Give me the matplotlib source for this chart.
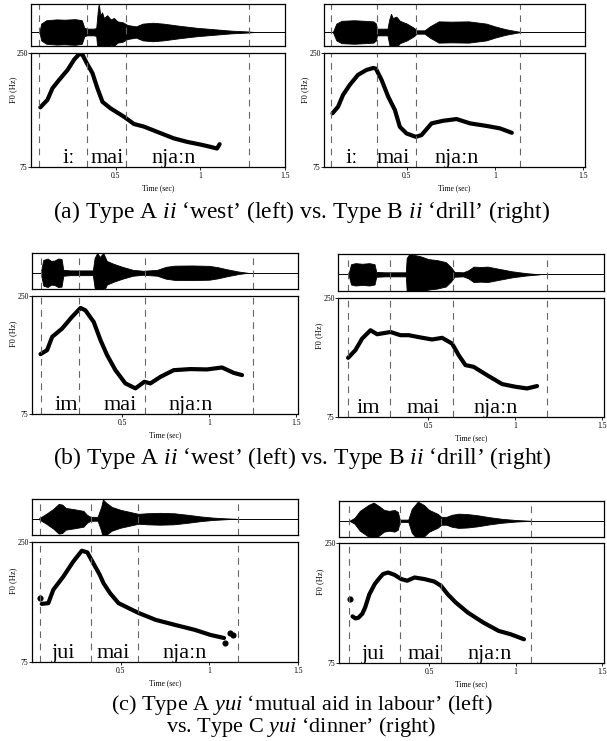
import matplotlib
matplotlib.use('Agg')
import matplotlib.pyplot as plt
from matplotlib.transforms import blended_transform_factory

plt.rcParams['font.family'] = ['Liberation Serif', 'DejaVu Serif']

W, H = 607, 741

# ---- (a) left: Type A ii 'west'
a_left_wave_t = [0.05, 0.06, 0.09, 0.15, 0.2, 0.26, 0.3, 0.315, 0.33, 0.37, 0.385, 0.395, 0.40, 0.41, 0.42, 0.43, 0.45, 0.47, 0.49, 0.51, 0.54, 0.57, 0.62, 0.66, 0.72, 0.78, 0.88, 0.98, 1.08, 1.18, 1.28, 1.32]
a_left_wave_amp = [0.0, 0.3, 0.42, 0.45, 0.44, 0.46, 0.42, 0.15, 0.12, 0.12, 0.14, 0.8, 1.0, 0.6, 0.7, 0.5, 0.6, 0.45, 0.5, 0.38, 0.35, 0.25, 0.2, 0.3, 0.33, 0.3, 0.22, 0.15, 0.1, 0.05, 0.02, 0.0]
a_left_f0_t = [0.055, 0.097, 0.127, 0.167, 0.216, 0.255, 0.285, 0.304, 0.329, 0.363, 0.392, 0.422, 0.47, 0.55, 0.608, 0.667, 0.745, 0.843, 0.922, 1.0, 1.059, 1.098, 1.114]
a_left_f0_hz = [166.6, 178, 196, 209, 224, 240, 248.5, 247.4, 234.6, 219, 196, 175, 165, 152, 141, 137, 129, 119, 113.6, 109.5, 106, 103.3, 110]
a_left_bounds = [0.05, 0.33, 0.56, 1.29]

# ---- (a) right: Type B ii 'drill'
a_right_wave_t = [0.08, 0.1, 0.13, 0.2, 0.26, 0.31, 0.325, 0.33, 0.39, 0.4, 0.41, 0.42, 0.44, 0.46, 0.5, 0.54, 0.555, 0.6, 0.63, 0.68, 0.75, 0.85, 0.95, 1.0, 1.06, 1.12, 1.15]
a_right_wave_amp = [0.0, 0.3, 0.4, 0.42, 0.4, 0.38, 0.3, 0.12, 0.12, 0.45, 0.65, 0.5, 0.55, 0.4, 0.3, 0.15, 0.06, 0.06, 0.2, 0.38, 0.37, 0.38, 0.3, 0.2, 0.1, 0.03, 0.0]
a_right_f0_t = [0.078, 0.11, 0.138, 0.176, 0.223, 0.271, 0.309, 0.324, 0.356, 0.394, 0.432, 0.46, 0.498, 0.551, 0.583, 0.64, 0.706, 0.782, 0.858, 0.953, 1.028, 1.095]
a_right_f0_hz = [157.4, 167.6, 185.7, 201, 216.5, 224, 227, 226, 209, 183, 162.5, 136.8, 126.5, 121.3, 124, 142, 146, 148.6, 142, 138, 134.3, 127.5]
a_right_bounds = [0.07, 0.33, 0.55, 1.14]

# ---- (b) left
b_left_wave_t = [0.03, 0.045, 0.07, 0.09, 0.11, 0.13, 0.15, 0.16, 0.2, 0.3, 0.33, 0.34, 0.355, 0.37, 0.39, 0.41, 0.45, 0.5, 0.56, 0.62, 0.7, 0.75, 0.8, 0.9, 1.0, 1.05, 1.1, 1.17, 1.22]
b_left_wave_amp = [0.0, 0.65, 0.72, 0.6, 0.62, 0.72, 0.7, 0.15, 0.12, 0.12, 0.12, 0.75, 1.0, 0.8, 1.0, 0.6, 0.45, 0.3, 0.15, 0.1, 0.15, 0.3, 0.36, 0.37, 0.35, 0.28, 0.18, 0.06, 0.0]
b_left_f0_t = [0.029, 0.067, 0.096, 0.153, 0.21, 0.259, 0.287, 0.335, 0.374, 0.412, 0.46, 0.517, 0.575, 0.626, 0.661, 0.718, 0.795, 0.89, 0.987, 1.073, 1.14, 1.188]
b_left_f0_hz = [163.8, 169.7, 189.4, 201.7, 219, 232.3, 228.8, 211.5, 184.5, 162.3, 140, 120.4, 113, 122.8, 120.4, 130, 140, 141.6, 141.1, 144, 136, 132.7]
b_left_bounds = [0.03, 0.25, 0.63, 1.25]

# ---- (b) right
b_right_wave_t = [0.04, 0.055, 0.08, 0.12, 0.16, 0.19, 0.2, 0.25, 0.3, 0.37, 0.375, 0.39, 0.42, 0.45, 0.5, 0.55, 0.6, 0.63, 0.65, 0.7, 0.73, 0.76, 0.8, 0.84, 0.9, 0.98, 1.06, 1.14]
b_right_wave_amp = [0.0, 0.5, 0.55, 0.52, 0.55, 0.5, 0.12, 0.1, 0.1, 0.1, 0.8, 1.0, 0.95, 0.9, 0.75, 0.7, 0.6, 0.35, 0.12, 0.1, 0.2, 0.38, 0.36, 0.38, 0.28, 0.15, 0.06, 0.0]
b_right_f0_t = [0.038, 0.08, 0.119, 0.167, 0.205, 0.282, 0.339, 0.387, 0.454, 0.521, 0.579, 0.636, 0.674, 0.713, 0.76, 0.837, 0.924, 1.0, 1.067, 1.125]
b_right_f0_hz = [162, 173.3, 190.4, 202.6, 196.7, 200, 195.3, 195.3, 192, 189, 191.4, 183, 166, 151.3, 148.8, 136.6, 123.4, 119.5, 117, 120.5]
b_right_bounds = [0.04, 0.28, 0.64, 1.18]

# ---- (c) left: Type A yui
c_left_wave_t = [0.04, 0.08, 0.12, 0.15, 0.17, 0.19, 0.24, 0.29, 0.31, 0.33, 0.37, 0.39, 0.40, 0.42, 0.45, 0.5, 0.55, 0.6, 0.65, 0.72, 0.8, 0.88, 0.95, 1.02, 1.1, 1.15]
c_left_wave_amp = [0.03, 0.25, 0.5, 0.75, 0.72, 0.55, 0.48, 0.4, 0.2, 0.1, 0.1, 0.6, 0.97, 0.8, 0.6, 0.45, 0.35, 0.25, 0.28, 0.3, 0.28, 0.2, 0.12, 0.06, 0.02, 0.0]
c_left_f0_t = [0.055, 0.092, 0.12, 0.177, 0.233, 0.281, 0.312, 0.356, 0.382, 0.403, 0.44, 0.488, 0.6, 0.698, 0.808, 0.919, 1.006, 1.083]
c_left_f0_hz = [159.8, 160.8, 180.3, 199.7, 221.6, 237.3, 234.8, 214.3, 202.2, 190, 175.4, 160.8, 146.6, 136.4, 129, 121.8, 114.5, 110]
c_left_dots_t = [0.045, 1.09, 1.116, 1.133]
c_left_dots_hz = [169, 102.8, 117.4, 114.5]
c_left_bounds = [0.045, 0.33, 0.60, 1.16]

# ---- (c) right: Type C yui
c_right_wave_t = [0.04, 0.07, 0.1, 0.15, 0.18, 0.21, 0.24, 0.27, 0.3, 0.32, 0.33, 0.38, 0.4, 0.435, 0.47, 0.5, 0.55, 0.57, 0.6, 0.63, 0.67, 0.72, 0.78, 0.85, 0.92, 1.0, 1.09]
c_right_wave_amp = [0.0, 0.15, 0.5, 0.8, 0.92, 0.75, 0.55, 0.5, 0.55, 0.45, 0.06, 0.06, 0.6, 0.97, 0.8, 0.55, 0.35, 0.2, 0.2, 0.3, 0.36, 0.34, 0.28, 0.18, 0.1, 0.04, 0.0]
c_right_f0_t = [0.058, 0.075, 0.092, 0.115, 0.131, 0.155, 0.186, 0.209, 0.234, 0.263, 0.3, 0.339, 0.374, 0.416, 0.473, 0.53, 0.569, 0.607, 0.655, 0.724, 0.813, 0.902, 0.97, 1.048]
c_right_f0_hz = [143, 140, 141, 147, 156, 175, 190, 197.4, 204.7, 207, 203.6, 197.4, 195, 199.7, 197.4, 193.8, 187.6, 175.4, 163, 148.5, 134, 121.8, 117, 109.6]
c_right_dots_t = [0.042]
c_right_dots_hz = [168]
c_right_bounds = [0.04, 0.33, 0.57, 1.09]

sylls_ii = ['iː', 'mai', 'njaːn']
sylls_im = ['im', 'mai', 'njaːn']
sylls_yui = ['jui', 'mai', 'njaːn']

captions = [
    "(a) Type A $\\it{ii}$ \u2018west\u2019 (left) vs. Type B $\\it{ii}$ \u2018drill\u2019 (right)",
    "(b) Type A $\\it{ii}$ \u2018west\u2019 (left) vs. Type B $\\it{ii}$ \u2018drill\u2019 (right)",
    "(c) Type A $\\it{yui}$ \u2018mutual aid in labour\u2019 (left)",
    "vs. Type C $\\it{yui}$ \u2018dinner\u2019 (right)",
]

fig = plt.figure(figsize=(W / 100, H / 100), dpi=100)
plt.rcParams['mathtext.fontset'] = 'custom'
plt.rcParams['mathtext.it'] = 'Liberation Serif:italic'
plt.rcParams['mathtext.rm'] = 'Liberation Serif'


def px_axes(x0, y0, x1, y1):
    return fig.add_axes([x0 / W, 1 - y1 / H, (x1 - x0) / W, (y1 - y0) / H])


def draw_panel(box, xlim, wave_ylim, wave_t, wave_amp, f0_t, f0_hz, bounds,
               sylls, syll_x, dots=None):
    x0, x1, wy0, wy1, fy0, fy1 = box
    wax = px_axes(x0, wy0, x1, wy1)
    fax = px_axes(x0, fy0, x1, fy1)

    neg = [-a for a in wave_amp]
    wax.fill_between(wave_t, neg, wave_amp, color='black', lw=0.6)
    wax.axhline(0, color='black', lw=0.7)
    wax.set_xlim(*xlim)
    wax.set_ylim(*wave_ylim)
    wax.set_xticks([])
    wax.set_yticks([])

    fax.plot(f0_t, f0_hz, color='black', lw=3.0, solid_capstyle='round',
             solid_joinstyle='round')
    if dots is not None:
        fax.plot(dots[0], dots[1], 'o', color='black', ms=3.4)
    fax.set_xlim(*xlim)
    fax.set_ylim(75, 250)
    fax.set_yticks([75, 250])
    fax.set_yticklabels(['75', '250'])
    fax.set_xticks([0.5, 1, 1.5])
    fax.set_xticklabels(['0.5', '1', '1.5'])
    fax.tick_params(axis='both', labelsize=5.5, length=2, width=0.6, pad=1.5)
    fax.tick_params(axis='y', pad=0.5)
    fax.set_xlabel('Time (sec)', fontsize=5.5, labelpad=3)
    fax.set_ylabel('F0 (Hz)', fontsize=6)
    fax.yaxis.set_label_coords(-0.055, 0.68)

    for ax in (wax, fax):
        for s in ax.spines.values():
            s.set_linewidth(0.9)
        for b in bounds:
            ax.axvline(b, color='0.4', lw=0.8, ls=(0, (6, 5)))

    tr = blended_transform_factory(fax.transData, fax.transAxes)
    for lab, x in zip(sylls, syll_x):
        fax.text(x, 0.035, lab, transform=tr, ha='center', va='baseline',
                 fontsize=16)


# row (a)
draw_panel((31, 285, 4, 46, 53, 167), (0, 1.5), (-0.5, 1.0),
           a_left_wave_t, a_left_wave_amp, a_left_f0_t, a_left_f0_hz,
           a_left_bounds, sylls_ii, [0.22, 0.45, 0.84])
draw_panel((324, 585, 4, 46, 53, 167), (0.03, 1.51), (-0.5, 1.0),
           a_right_wave_t, a_right_wave_amp, a_right_f0_t, a_right_f0_hz,
           a_right_bounds, sylls_ii, [0.19, 0.42, 0.78])

# row (b)
draw_panel((32, 298, 253, 289, 296, 414), (-0.02, 1.51), (-0.82, 1.0),
           b_left_wave_t, b_left_wave_amp, b_left_f0_t, b_left_f0_hz,
           b_left_bounds, sylls_im, [0.18, 0.49, 0.89])
draw_panel((338, 604, 254, 291, 298, 417), (-0.02, 1.51), (-0.82, 1.0),
           b_right_wave_t, b_right_wave_amp, b_right_f0_t, b_right_f0_hz,
           b_right_bounds, sylls_im, [0.155, 0.47, 0.885])

# row (c)
draw_panel((32, 298, 499, 535, 542, 662), (0, 1.5), (-0.82, 1.0),
           c_left_wave_t, c_left_wave_amp, c_left_f0_t, c_left_f0_hz,
           c_left_bounds, sylls_yui, [0.18, 0.46, 0.86],
           dots=(c_left_dots_t, c_left_dots_hz))
draw_panel((339, 604, 501, 537, 543, 663), (-0.02, 1.51), (-0.82, 1.0),
           c_right_wave_t, c_right_wave_amp, c_right_f0_t, c_right_f0_hz,
           c_right_bounds, sylls_yui, [0.18, 0.47, 0.85],
           dots=(c_right_dots_t, c_right_dots_hz))

for cap, y, fs in zip(captions, [212, 458, 705, 727], [17, 17, 16, 16]):
    fig.text(0.497, 1 - y / H, cap, ha='center', va='center', fontsize=fs)

fig.savefig('out.png', dpi=100)
